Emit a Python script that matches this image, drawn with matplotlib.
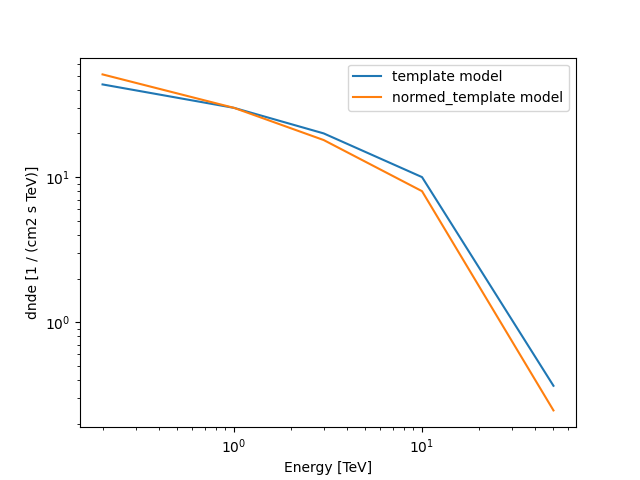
import matplotlib
matplotlib.use("Agg")
import matplotlib.pyplot as plt

# energies in TeV, dnde in 1 / (cm2 s TeV)
energy = [0.2, 1.0, 3.0, 10.0, 50.0]
template = [43.5, 30.0, 20.0, 10.0, 0.365]
normed_template = [51.0, 30.0, 18.0, 8.0, 0.247]

fig, ax = plt.subplots(figsize=(6.4, 4.8), dpi=100)
ax.plot(energy, template, label="template model")
ax.plot(energy, normed_template, label="normed_template model")
ax.set_xscale("log")
ax.set_yscale("log")
ax.set_xlabel("Energy [TeV]")
ax.set_ylabel("dnde [1 / (cm2 s TeV)]")
ax.legend()
fig.savefig("out.png")
